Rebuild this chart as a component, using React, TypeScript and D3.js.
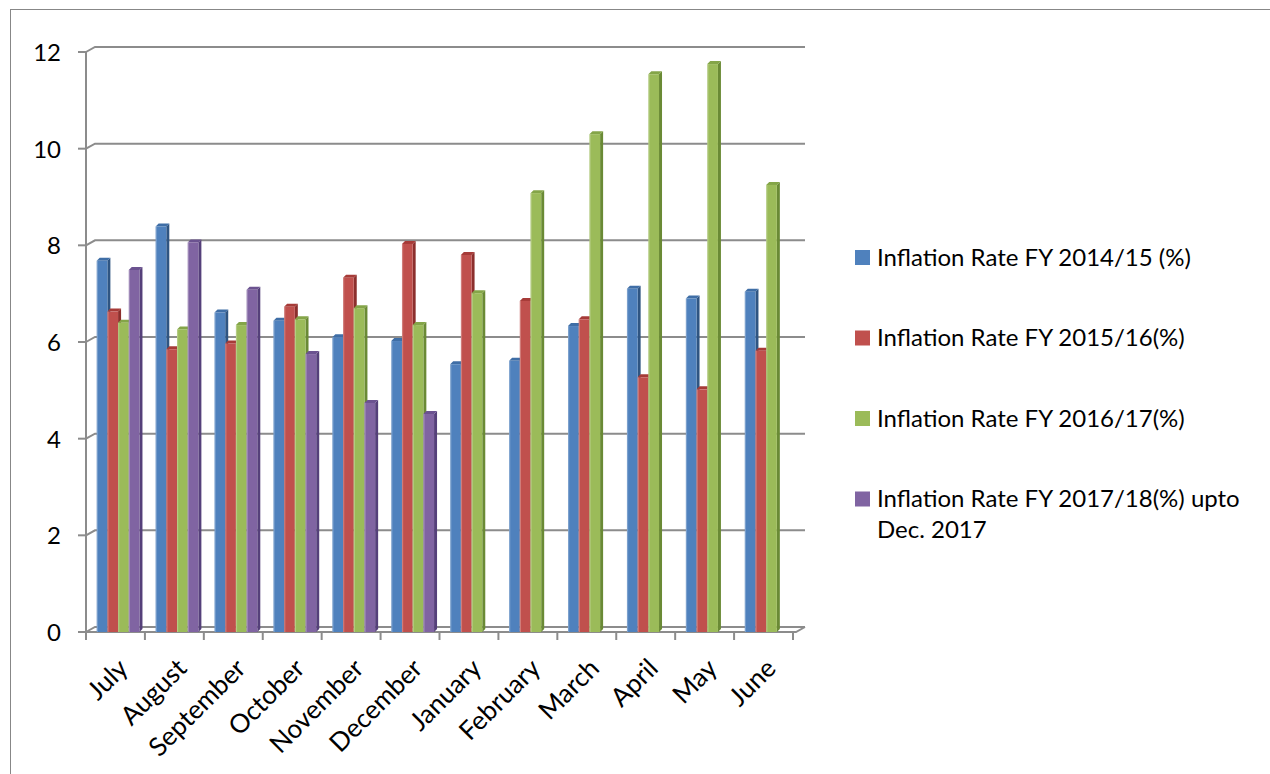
import React from "react";
import * as d3 from "d3";

const months = [
  "July", "August", "September", "October", "November", "December",
  "January", "February", "March", "April", "May", "June",
];
const seriesNames = [
  "Inflation Rate FY 2014/15 (%)",
  "Inflation Rate FY 2015/16(%)",
  "Inflation Rate FY 2016/17(%)",
  "Inflation Rate FY 2017/18(%) upto Dec. 2017",
];
const fy1415 = [7.68, 8.39, 6.61, 6.44, 6.1, 6.02, 5.54, 5.61, 6.33, 7.1, 6.9, 7.04];
const fy1516 = [6.63, 5.85, 5.97, 6.73, 7.33, 8.03, 7.8, 6.85, 6.47, 5.27, 5.02, 5.82];
const fy1617 = [6.4, 6.26, 6.35, 6.47, 6.7, 6.35, 7.01, 9.08, 10.3, 11.54, 11.75, 9.25];
const fy1718: (number | null)[] = [7.49, 8.06, 7.08, 5.75, 4.74, 4.51, null, null, null, null, null, null];
const yTicks = [0, 2, 4, 6, 8, 10, 12];

const seriesValues = [fy1415, fy1516, fy1617, fy1718];
const fronts = ["#4F81BD", "#C0504D", "#9BBB59", "#8064A2"];
const sides = ["#2F5582", "#8C2F2D", "#6A8A35", "#55407A"];
const tops = ["#3F6EA6", "#A63B38", "#84A548", "#6B5290"];

const FONT = "Lato, 'Open Sans', sans-serif";
const GRID = "#8c8c8c";

export default function App() {
  const x0 = 86;
  const x1 = 793;
  const depthX = 9;
  const depthY = 5;
  const y = d3.scaleLinear().domain([0, 12]).range([632, 52]);
  const xGroup = d3.scaleBand<string>().domain(months).range([x0, x1]);
  const gw = xGroup.bandwidth();
  const barW = gw * 0.1815;
  const xSeries = d3
    .scaleBand<string>()
    .domain(seriesNames)
    .range([barW, barW * 5]);
  const bdx = 3;
  const bdy = 3;

  const bars: React.ReactNode[] = [];
  months.forEach((m, i) => {
    seriesNames.forEach((s, k) => {
      const v = seriesValues[k][i];
      if (v == null) return;
      const left = (xGroup(m) as number) + (xSeries(s) as number);
      const right = left + xSeries.bandwidth();
      const top = y(v);
      const bottom = y(0);
      bars.push(
        <g key={`${m}-${k}`}>
          <polygon
            points={`${right},${top} ${right + bdx},${top - bdy} ${right + bdx},${bottom - bdy} ${right},${bottom}`}
            fill={sides[k]}
          />
          <polygon
            points={`${left},${top} ${left + bdx},${top - bdy} ${right + bdx},${top - bdy} ${right},${top}`}
            fill={tops[k]}
          />
          <rect x={left} y={top} width={right - left} height={bottom - top} fill={fronts[k]} />
          <rect x={left} y={top} width={1.2} height={bottom - top} fill="#ffffff" opacity={0.25} />
        </g>
      );
    });
  });

  const legendY = [257.5, 338, 418.5, 499];

  return (
    <svg
      width={1270}
      height={774}
      style={{ position: "absolute", left: 0, top: 0, background: "#fff" }}
      fontFamily={FONT}
    >
      <rect x={10.5} y={9.5} width={1300} height={800} fill="none" stroke="#878787" strokeWidth={1} />

      {/* back-wall gridlines with their short floor-to-wall connectors */}
      {yTicks.map((t) => (
        <path
          key={`g${t}`}
          d={`M${x0},${y(t)} L${x0 + depthX},${y(t) - depthY} L${x1 + depthX + 3},${y(t) - depthY}`}
          fill="none"
          stroke={GRID}
          strokeWidth={2}
        />
      ))}
      {/* floor */}
      <path
        d={`M${x0},${y(0)} L${x1 + 3},${y(0)} L${x1 + depthX + 3},${y(0) - depthY}`}
        fill="none"
        stroke={GRID}
        strokeWidth={2}
      />
      {/* value axis */}
      <line x1={x0} x2={x0} y1={y(12)} y2={y(0)} stroke={GRID} strokeWidth={2} />
      {yTicks.map((t) => (
        <line key={`t${t}`} x1={x0 - 8} x2={x0} y1={y(t)} y2={y(t)} stroke={GRID} strokeWidth={2} />
      ))}
      {/* category ticks */}
      {[...months.map((m) => xGroup(m) as number), x1].map((xx, i) => (
        <line key={`c${i}`} x1={xx} x2={xx} y1={y(0)} y2={y(0) + 8} stroke={GRID} strokeWidth={2} />
      ))}

      {bars}

      {yTicks.map((t) => (
        <text key={`l${t}`} x={61} y={y(t) + 9} textAnchor="end" fontSize={24} fill="#000">
          {t}
        </text>
      ))}

      {months.map((m) => {
        const cx = (xGroup(m) as number) + gw / 2 + 14;
        const cy = 670;
        return (
          <text
            key={`m${m}`}
            transform={`translate(${cx},${cy}) rotate(-45)`}
            textAnchor="end"
            fontSize={26}
            fill="#000"
          >
            {m}
          </text>
        );
      })}

      {seriesNames.map((s, k) => (
        <g key={`lg${k}`}>
          <rect x={855} y={legendY[k] - 7.5} width={15} height={15} fill={fronts[k]} />
          {k < 3 ? (
            <text x={877} y={legendY[k] + 8} fontSize={24} fill="#000">
              {s}
            </text>
          ) : (
            <text x={877} y={legendY[k] + 8} fontSize={24} fill="#000">
              <tspan x={877}>Inflation Rate FY 2017/18(%) upto</tspan>
              <tspan x={877} dy={31}>Dec. 2017</tspan>
            </text>
          )}
        </g>
      ))}
    </svg>
  );
}
